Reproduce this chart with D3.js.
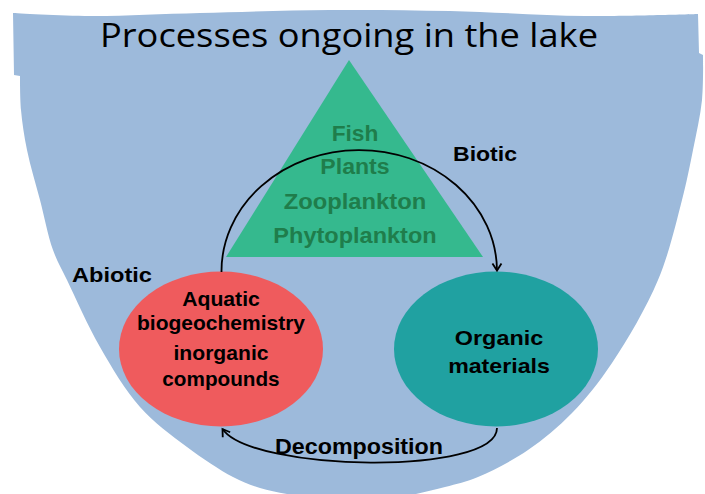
<!DOCTYPE html>
<html>
  <head>
    <meta charset="utf-8">
    <title>Processes ongoing in the lake</title>
    <script src="https://d3js.org/d3.v7.min.js" charset="utf-8"></script>
    <style>
      body { margin: 0; background: #fff; }
    </style>
  </head>
  <body>
    <script>
      // text content
      var title = "Processes ongoing in the lake";
      var trophicLevels = ["Fish", "Plants", "Zooplankton", "Phytoplankton"];
      var abioticLines = ["Aquatic", "biogeochemistry", "inorganic", "compounds"];
      var organicLines = ["Organic", "materials"];
      var processLabels = ["Biotic", "Abiotic", "Decomposition"];

      var width = 705;
      var height = 494;

      var lakeBlue = '#9dbadb';
      var pyramidGreen = '#35b98e';
      var abioticRed = '#ef5b5d';
      var organicTeal = '#20a1a1';

      var svg = d3.select("body")
          .append("svg")
          .attr("width", width)
          .attr("height", height);

      var defs = svg.append("defs");
      defs.append("marker")
        .attr("id", "arrow")
        .attr("markerUnits", "userSpaceOnUse")
        .attr("viewBox", "-9 -6 11 12")
        .attr("markerWidth", 11)
        .attr("markerHeight", 12)
        .attr("refX", 0)
        .attr("refY", 0)
        .attr("orient", "auto")
        .append("path")
        .attr("d", "M-7,-4.5L0,0L-7,4.5")
        .attr("fill", "none")
        .attr("stroke", "#000")
        .attr("stroke-width", 1.8);

      // lake bowl outline
      var smooth = d3.line().curve(d3.curveCatmullRom);
      var bowlSide = smooth([[703,55],[702,100],[693,150],[682,200],[658,280],[612,363],[572,413],
        [528,450],[478,477],[445,487],[400,497],[358,501],[300,496],[260,488],[233,477],
        [187,447],[140,407],[100,347],[67,280],[53,250],[40,200],[27,150],[21,110],[20,76]]);
      var bowlTop = smooth([[13,13],[90,16],[200,13],[330,10],[450,11],[585,16],[698,14]]);
      svg.append("path")
        .attr("d", bowlSide + "L14,75L13,13" + bowlTop.replace(/^M/, "L") + "L699,53Z")
        .attr("fill", lakeBlue);

      // title
      svg.append("text")
        .attr("x", 349)
        .attr("y", 46.7)
        .attr("text-anchor", "middle")
        .attr("font-family", "'Open Sans', sans-serif")
        .attr("font-size", 33)
        .attr("textLength", 498)
        .attr("lengthAdjust", "spacingAndGlyphs")
        .attr("fill", "#000")
        .text(title);

      // pyramid
      svg.append("path")
        .attr("d", d3.line()([[349,60],[483,257],[226,257]]) + "Z")
        .attr("fill", pyramidGreen);

      // the two boxes
      svg.append("ellipse")
        .attr("cx", 221).attr("cy", 349).attr("rx", 102).attr("ry", 77.5)
        .attr("fill", abioticRed);
      svg.append("ellipse")
        .attr("cx", 496).attr("cy", 349).attr("rx", 102).attr("ry", 77.5)
        .attr("fill", organicTeal);

      // cycle arrows
      svg.append("path")
        .attr("d", "M221.5,272A137.5,121 0 0 1 497,270.5")
        .attr("fill", "none")
        .attr("stroke", "#000")
        .attr("stroke-width", 1.8)
        .attr("marker-end", "url(#arrow)");
      svg.append("path")
        .attr("d", "M497,428C497,476 252,472 222.5,429")
        .attr("fill", "none")
        .attr("stroke", "#000")
        .attr("stroke-width", 1.8)
        .attr("marker-end", "url(#arrow)");

      function addLines(lines, cx, baselines, widths, size, color) {
        svg.append("g")
          .selectAll("text")
          .data(lines)
          .enter()
          .append("text")
          .attr("x", cx)
          .attr("y", function(d, i) { return baselines[i]; })
          .attr("text-anchor", "middle")
          .attr("font-family", "'Liberation Sans', Arial, sans-serif")
          .attr("font-weight", "bold")
          .attr("font-size", size)
          .attr("textLength", function(d, i) { return widths[i]; })
          .attr("lengthAdjust", "spacingAndGlyphs")
          .attr("fill", color)
          .text(function(d) { return d; });
      }

      addLines(trophicLevels, 355, [140.7, 174, 208.8, 242.7], [46.7, 69.3, 142.7, 163.3], 22, '#1f7d4b');
      addLines(abioticLines, 221, [306, 330, 360, 385.7], [77.7, 168, 95, 117.3], 20.5, '#000');
      addLines(organicLines, 499, [345, 373.3], [88.3, 101.7], 21, '#000');

      addLines([processLabels[0]], 485, [160.7], [64], 20, '#000');
      addLines([processLabels[1]], 112, [281.7], [80], 21, '#000');
      addLines([processLabels[2]], 359, [454], [168], 22, '#000');
    </script>
  </body>
</html>
